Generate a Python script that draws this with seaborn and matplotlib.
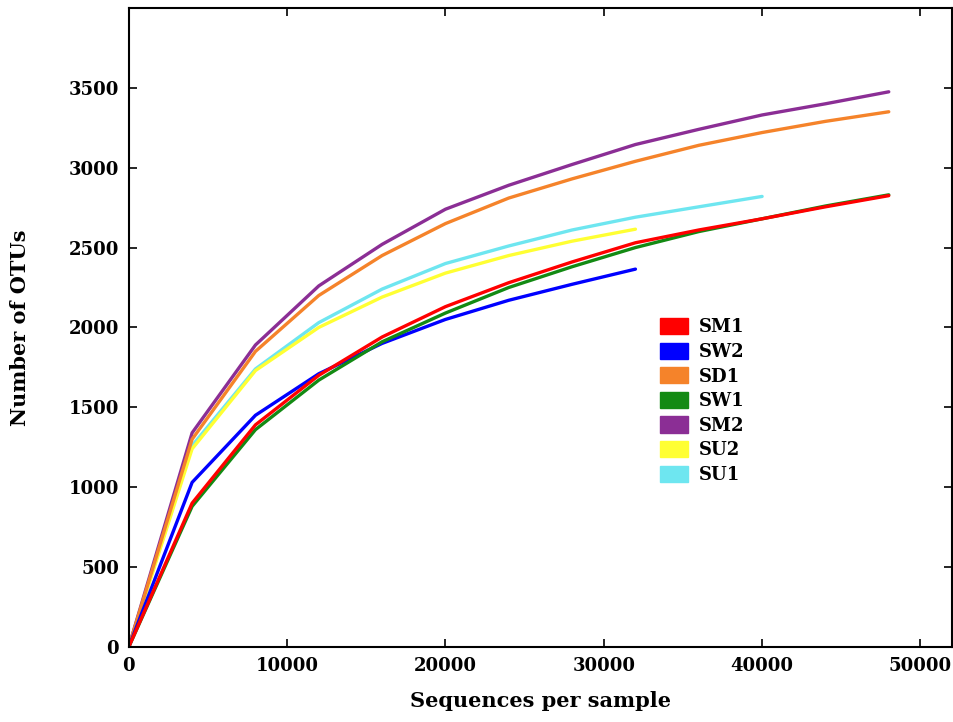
import pandas as pd
import numpy as np
import matplotlib.pyplot as plt
import seaborn as sns
from matplotlib.patches import Patch

# rarefaction depths (sequences per sample)
depth = [0, 4000, 8000, 12000, 16000, 20000, 24000, 28000, 32000, 36000, 40000, 44000, 48000]

# OTU counts
sm1 = [0, 900, 1390, 1700, 1940, 2130, 2280, 2410, 2530, 2610, 2680, 2755, 2825]
sw2 = [0, 1030, 1450, 1710, 1900, 2050, 2170, 2270, 2365]
sd1 = [0, 1300, 1850, 2200, 2450, 2650, 2810, 2930, 3040, 3140, 3220, 3290, 3350]
sw1 = [0, 880, 1360, 1670, 1910, 2090, 2250, 2380, 2500, 2600, 2680, 2760, 2830]
sm2 = [0, 1340, 1890, 2260, 2520, 2740, 2890, 3020, 3145, 3240, 3330, 3400, 3475]
su2 = [0, 1240, 1730, 2000, 2190, 2340, 2450, 2540, 2615]
su1 = [0, 1260, 1740, 2030, 2240, 2400, 2510, 2610, 2690, 2755, 2820]

samples = ['SM1', 'SW2', 'SD1', 'SW1', 'SM2', 'SU2', 'SU1']
series = [sm1, sw2, sd1, sw1, sm2, su2, su1]
colors = ['#ff0000', '#0000ff', '#f5832a', '#138a13', '#8b2e95', '#ffff33', '#6ee6f0']

rows = []
for name, vals in zip(samples, series):
    for d, v in zip(depth, vals):
        rows.append({'sample': name, 'depth': d, 'otus': v})
df = pd.DataFrame(rows)

sns.set_style('ticks')
plt.rcParams['font.family'] = ['DejaVu Serif']
plt.rcParams['font.weight'] = 'bold'
plt.rcParams['text.color'] = 'black'
plt.rcParams['axes.labelcolor'] = 'black'
plt.rcParams['xtick.color'] = 'black'
plt.rcParams['ytick.color'] = 'black'

fig = plt.figure(figsize=(9.54, 7.22), dpi=100)
ax = fig.add_axes([0.135, 0.104, 0.863, 0.885])

# draw so red ends up above green, as in the original
order = ['SU1', 'SU2', 'SM2', 'SD1', 'SW2', 'SW1', 'SM1']
pal = dict(zip(samples, colors))
for name in order:
    sns.lineplot(data=df[df['sample'] == name], x='depth', y='otus', color=pal[name],
                 lw=2.4, ax=ax, legend=False)

ax.set_xlim(0, 52000)
ax.set_ylim(0, 4000)
ax.set_xticks([0, 10000, 20000, 30000, 40000, 50000])
ax.set_yticks([0, 500, 1000, 1500, 2000, 2500, 3000, 3500])
ax.tick_params(direction='in', top=True, right=True, length=6, width=1.2,
               labelsize=13, pad=7, colors='black')
for lab in ax.get_xticklabels() + ax.get_yticklabels():
    lab.set_fontweight('bold')
for sp in ax.spines.values():
    sp.set_linewidth(1.5)
    sp.set_color('black')

ax.set_xlabel('Sequences per sample', fontsize=15, fontweight='bold', labelpad=12)
ax.set_ylabel('Number of OTUs', fontsize=15, fontweight='bold', labelpad=28)

handles = [Patch(facecolor=c, edgecolor=c, label=s) for s, c in zip(samples, colors)]
ax.legend(handles=handles, loc='upper left', bbox_to_anchor=(0.625, 0.54),
          frameon=False, handlelength=1.6, handleheight=1.0, handletextpad=0.6,
          labelspacing=0.35, prop={'weight': 'bold', 'size': 13})

fig.savefig('out.png', dpi=100)
